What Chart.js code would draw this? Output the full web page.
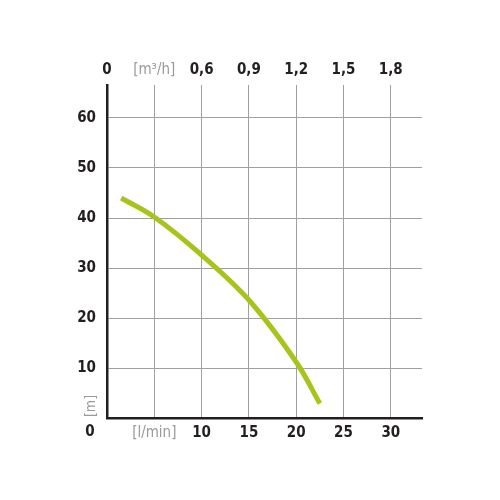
<!DOCTYPE html>
<html>
<head>
<meta charset="utf-8">
<script src="https://cdn.jsdelivr.net/npm/chart.js@4/dist/chart.umd.min.js"></script>
<style>
  html, body { margin: 0; padding: 0; background: #fff; }
  #wrap { width: 500px; height: 500px; position: relative; }
</style>
</head>
<body>
<div id="wrap"><canvas id="pumpChart"></canvas></div>
<script>
// pump curve: flow [l/min] vs head [m]
const flowLpm = [1.5, 5, 10, 15, 20, 22.5];
const headM = [44, 40.2, 32.6, 23.6, 11.2, 2.9];

const bottomTicks = [5, 10, 15, 20, 25, 30];
const bottomLabels = ['[l/min]', '10', '15', '20', '25', '30'];
const topTicks = [0, 5, 10, 15, 20, 25, 30];
const topLabels = ['0', '[m³/h]', '0,6', '0,9', '1,2', '1,5', '1,8'];
const headTicks = [10, 20, 30, 40, 50, 60];

const DARK = '#231f20';
const GREY = '#9a9a9a';
const FONT = "'DejaVu Sans Condensed', 'Liberation Sans Narrow', sans-serif";

const extraLabels = {
  id: 'extraLabels',
  afterDraw(chart) {
    const { ctx, chartArea } = chart;
    ctx.save();
    ctx.font = `bold 15px ${FONT}`;
    ctx.fillStyle = DARK;
    ctx.textAlign = 'center';
    ctx.textBaseline = 'middle';
    ctx.fillText('0', 90, chartArea.bottom + 14);
    ctx.translate(91, chartArea.bottom - 12);
    ctx.rotate(-Math.PI / 2);
    ctx.font = `14px ${FONT}`;
    ctx.fillStyle = GREY;
    ctx.fillText('[m]', 0, 0);
    ctx.restore();
  },
};

new Chart(document.getElementById('pumpChart'), {
  type: 'scatter',
  data: {
    datasets: [{
      data: flowLpm.map((x, i) => ({ x, y: headM[i] })),
      showLine: true,
      borderColor: '#a8c41c',
      borderWidth: 5,
      pointRadius: 0,
      tension: 0.35,
      borderCapStyle: 'butt',
    }],
  },
  options: {
    responsive: true,
    maintainAspectRatio: false,
    animation: false,
    layout: { padding: { left: 0, right: 78, top: 0, bottom: 0 } },
    plugins: { legend: { display: false }, tooltip: { enabled: false } },
    scales: {
      x: {
        type: 'linear', position: 'bottom', min: 0, max: 33.3,
        afterBuildTicks: s => { s.ticks = bottomTicks.map(v => ({ value: v })); },
        afterFit: s => { s.height = 82; },
        ticks: {
          padding: 6,
          maxRotation: 0,
          font: ctx => ({ family: FONT, size: 15, weight: ctx.index === 0 ? 'normal' : 'bold' }),
          color: ctx => ctx.index === 0 ? GREY : DARK,
          callback: (v, i) => bottomLabels[i],
        },
        grid: { color: '#a0a0a0', lineWidth: 1, drawTicks: false },
        border: { display: true, color: DARK, width: 2.5 },
      },
      x2: {
        type: 'linear', position: 'top', min: 0, max: 33.3,
        afterBuildTicks: s => { s.ticks = topTicks.map(v => ({ value: v })); },
        afterFit: s => { s.height = 85; },
        ticks: {
          padding: 6,
          maxRotation: 0,
          font: ctx => ({ family: FONT, size: 15, weight: ctx.index === 1 ? 'normal' : 'bold' }),
          color: ctx => ctx.index === 1 ? GREY : DARK,
          callback: (v, i) => topLabels[i],
        },
        grid: { display: false, drawTicks: false },
        border: { display: false },
      },
      y: {
        type: 'linear', min: 0, max: 66.6,
        afterBuildTicks: s => { s.ticks = headTicks.map(v => ({ value: v })); },
        afterFit: s => { s.width = 107; },
        ticks: {
          padding: 11,
          font: { family: FONT, size: 15, weight: 'bold' },
          color: DARK,
        },
        grid: { color: '#a0a0a0', lineWidth: 1, drawTicks: false },
        border: { display: true, color: DARK, width: 2.5 },
      },
    },
  },
  plugins: [extraLabels],
});
</script>
</body>
</html>
